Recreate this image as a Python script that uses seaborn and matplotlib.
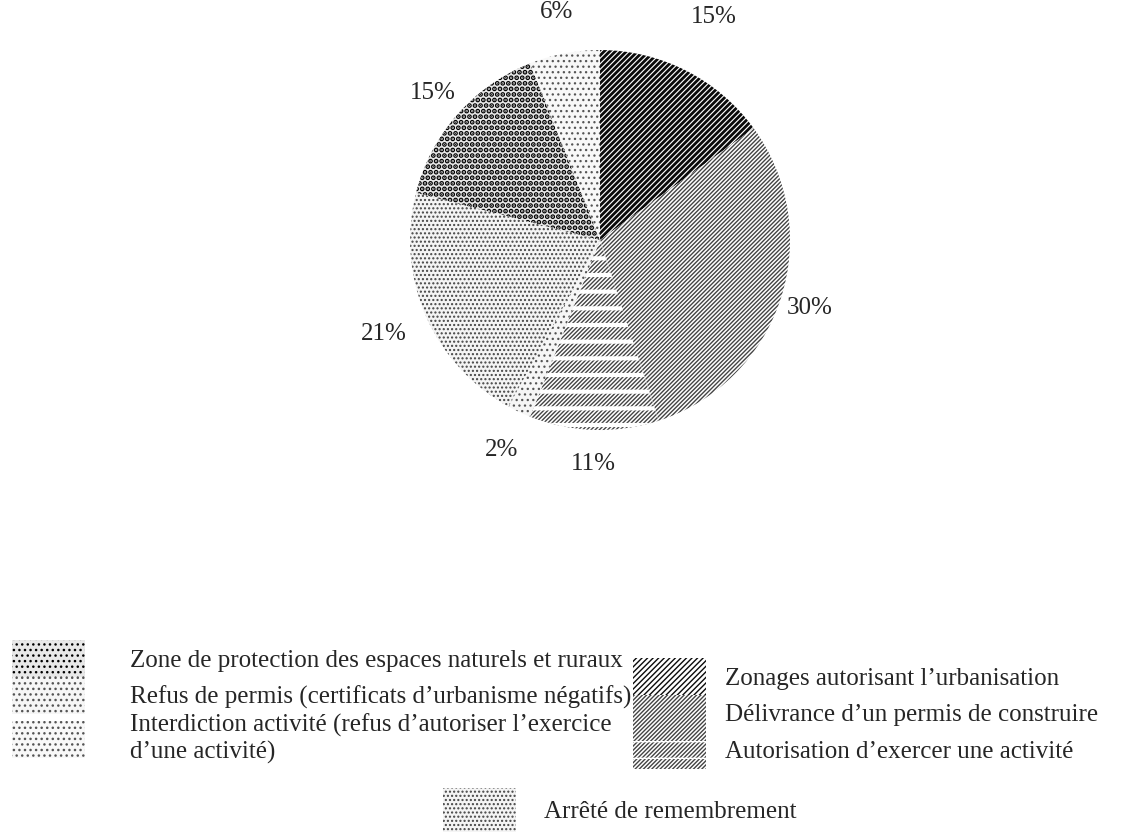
import numpy as np
import matplotlib
matplotlib.use("Agg")
import matplotlib.pyplot as plt
from matplotlib.patches import Wedge
from matplotlib.legend_handler import HandlerTuple
import seaborn as sns

# Categories in drawing order (clockwise from 12 o'clock) and their shares (%)
categories = [
    "Zonages autorisant l’urbanisation",
    "Délivrance d’un permis de construire",
    "Autorisation d’exercer une activité",
    "Refus de permis (certificats d’urbanisme négatifs)",
    "Arrêté de remembrement",
    "Zone de protection des espaces naturels et ruraux",
    "Interdiction activité (refus d’autoriser l’exercice\nd’une activité)",
]
shares = [15, 30, 11, 2, 21, 15, 6]

# Grey-scale fill patterns: (face colour, hatch colour, hatch, hatch line width)
patterns = [
    ("white", "#0a0a0a", "//////", 2.0),
    ("white", "#444444", "////////", 1.0),
    ("white", "#444444", "////////", 1.0),
    ("#f6f6f6", "#555555", "...", 0.9),
    ("#f4f4f4", "#444444", "....", 1.0),
    ("#e8e8e8", "#000000", "...", 2.5),
    ("#f8f8f8", "#555555", "...", 0.9),
]
label_radius = [1.32, 1.16, 1.18, 1.22, 1.24, 1.17, 1.22]

sns.set_theme(style="white")
plt.rcParams["font.family"] = ["Liberation Serif", "DejaVu Serif"]
FS = 18

fig = plt.figure(figsize=(11.27, 8.36), dpi=100)
ax = fig.add_axes([0.2795, 0.372, 0.5058, 0.6818])

wedges, _ = ax.pie(shares, startangle=90, counterclock=False, radius=1.0,
                   wedgeprops=dict(linewidth=0))
for w, (face, hc, hatch, hlw) in zip(wedges, patterns):
    w.set_facecolor(face)
    w.set_edgecolor(hc)
    w.set_linewidth(0)
    w.set_hatch(hatch)
    if hasattr(w, "set_hatch_linewidth"):
        w.set_hatch_linewidth(hlw)

# White horizontal bands over the activity-authorisation slice -> dashed diagonals
w_act = wedges[2]
bands = Wedge((0, 0), w_act.r, w_act.theta1, w_act.theta2, facecolor="none",
              edgecolor="white", linewidth=0, hatch="-")
if hasattr(bands, "set_hatch_linewidth"):
    bands.set_hatch_linewidth(3.0)
ax.add_patch(bands)

# Percentage labels outside each slice
for w, v, rr in zip(wedges, shares, label_radius):
    ang = np.deg2rad((w.theta1 + w.theta2) / 2)
    ax.text(rr * np.cos(ang), rr * np.sin(ang), f"{v}%", ha="center",
            va="center", fontsize=FS)

ax.set_xlim(-1.5, 1.5)
ax.set_ylim(-1.5, 1.5)
ax.set_aspect("equal")
ax.axis("off")

FPX = FS * 100 / 72  # font size in pixels
common = dict(frameon=False, fontsize=FS, labelspacing=0.0, borderpad=0,
              borderaxespad=0, handlelength=73 / FPX,
              handler_map={tuple: HandlerTuple(ndivide=1, pad=0)})

left_idx = [5, 3, 6]
right_idx = [0, 1, 2]
handles = list(wedges)
handles[2] = (wedges[2], bands)

fig.legend([handles[i] for i in left_idx], [categories[i] for i in left_idx],
           loc="upper left", bbox_to_anchor=(12 / 1127, 1 - 640 / 836),
           handleheight=1.9, handletextpad=45 / FPX, **common)
fig.legend([handles[i] for i in right_idx], [categories[i] for i in right_idx],
           loc="upper left", bbox_to_anchor=(633 / 1127, 1 - 658 / 836),
           handleheight=1.9, handletextpad=19 / FPX, **common)
fig.legend([handles[4]], [categories[4]],
           loc="upper left", bbox_to_anchor=(443 / 1127, 1 - 788 / 836),
           handleheight=2.3, handletextpad=28 / FPX, **common)

fig.savefig("out.png", dpi=100)
